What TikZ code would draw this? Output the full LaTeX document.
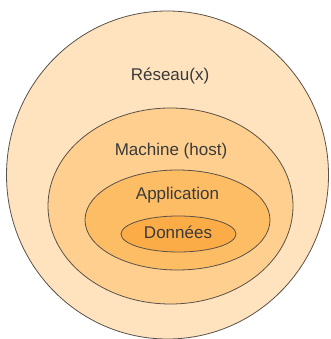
\documentclass[tikz,border=0pt]{standalone}
\usepackage{fontspec}
\setmainfont{Liberation Sans}
\usetikzlibrary{shapes.geometric}
\definecolor{ringA}{HTML}{FFE3BF}
\definecolor{ringB}{HTML}{FECF8E}
\definecolor{ringC}{HTML}{FDBD65}
\definecolor{ringD}{HTML}{FBAC46}
\definecolor{rim}{HTML}{5A5248}
\definecolor{ink}{HTML}{3A3A3A}
\tikzset{
  layer/.style={ellipse, draw=rim, line width=0.8pt, inner sep=0pt},
  tag/.style={anchor=base, text=ink, font=\fontsize{17}{20}\selectfont, inner sep=0pt}
}
\begin{document}
\begin{tikzpicture}[x=1pt,y=1pt]
  \useasboundingbox (0,0) rectangle (330,339);
  % nested layers, y measured upward from the bottom edge
  \node[layer, fill=ringA, minimum width=322, minimum height=328] (net) at (167.5,164) {};
  \node[layer, fill=ringB, minimum width=245, minimum height=196] (host) at (170.5,133) {};
  \node[layer, fill=ringC, minimum width=185, minimum height=100] (app) at (177.5,119) {};
  \node[layer, fill=ringD, minimum width=115, minimum height=36] (data) at (178.5,105) {};
  % labels
  \node[tag] (tnet) at (170,258) {Réseau(x)};
  \node[tag] (thost) at (171,183) {Machine (host)};
  \node[tag] (tapp) at (177.5,139) {Application};
  \node[tag] (tdata) at (178,100) {Données};
\end{tikzpicture}
\end{document}
